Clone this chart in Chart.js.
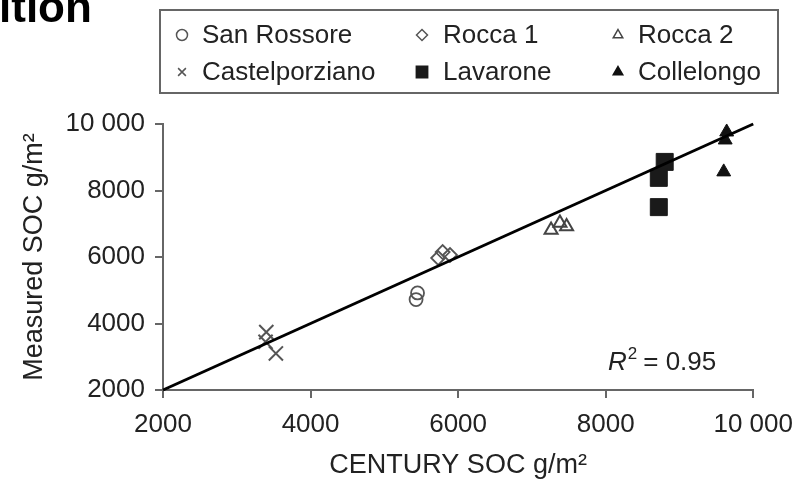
<!DOCTYPE html>
<html>
<head>
<meta charset="utf-8">
<script src="https://cdn.jsdelivr.net/npm/chart.js@4.4.1/dist/chart.umd.min.js"></script>
<style>
  html, body { margin: 0; padding: 0; background: #fff; }
  #wrap { position: relative; width: 804px; height: 488px; }
</style>
</head>
<body>
<div id="wrap"><canvas id="socChart" width="804" height="488"></canvas></div>
<script>
// sites (legend order)
const siteNames = ["San Rossore", "Rocca 1", "Rocca 2", "Castelporziano", "Lavarone", "Collelongo"];

// CENTURY (x) vs measured (y) SOC, g/m2
const sanRossoreX = [5450, 5430];
const sanRossoreY = [4920, 4720];
const rocca1X = [5790, 5890, 5730];
const rocca1Y = [6150, 6060, 5970];
const rocca2X = [7260, 7380, 7470];
const rocca2Y = [6810, 7020, 6920];
const castelX = [3400, 3390, 3530];
const castelY = [3740, 3450, 3100];
const lavaroneX = [8800, 8720, 8720];
const lavaroneY = [8860, 8380, 7500];
const collelongoX = [9640, 9620, 9600];
const collelongoY = [9760, 9520, 8560];

// 1:1 line
const lineX = [2000, 10000];
const lineY = [2000, 10000];

const axisTicks = [2000, 4000, 6000, 8000, 10000];
const r2Text = "0.95";

const grey = "#555";
const txt = "#222";
const fam = "'Liberation Sans', Arial, sans-serif";

function pts(xs, ys) {
  return xs.map((x, i) => ({ x: x, y: ys[i] }));
}

function tickLabel(v) {
  return v >= 10000 ? String(v).replace(/(\d+)(\d{3})$/, "$1 $2") : String(v);
}

const siteStyles = [
  { pointStyle: "circle", radius: 6.5, fill: "rgba(0,0,0,0)", border: grey, width: 1.8 },
  { pointStyle: "rectRot", radius: 7, fill: "rgba(0,0,0,0)", border: grey, width: 1.8 },
  { pointStyle: "triangle", radius: 7.5, fill: "rgba(0,0,0,0)", border: "#444", width: 2 },
  { pointStyle: "crossRot", radius: 10, fill: "rgba(0,0,0,0)", border: grey, width: 2 },
  { pointStyle: "rect", radius: 12, fill: "#1a1a1a", border: "#1a1a1a", width: 1 },
  { pointStyle: "triangle", radius: 8, fill: "#111", border: "#111", width: 1 },
];

const siteData = [
  pts(sanRossoreX, sanRossoreY),
  pts(rocca1X, rocca1Y),
  pts(rocca2X, rocca2Y),
  pts(castelX, castelY),
  pts(lavaroneX, lavaroneY),
  pts(collelongoX, collelongoY),
];

const datasets = siteNames.map((name, i) => ({
  type: "scatter",
  label: name,
  data: siteData[i],
  pointStyle: siteStyles[i].pointStyle,
  pointRadius: siteStyles[i].radius,
  pointBackgroundColor: siteStyles[i].fill,
  pointBorderColor: siteStyles[i].border,
  pointBorderWidth: siteStyles[i].width,
  clip: false,
  order: 2,
}));

datasets.push({
  type: "line",
  label: "1:1",
  data: pts(lineX, lineY),
  borderColor: "#000",
  borderWidth: 3,
  pointRadius: 0,
  clip: false,
  order: 1,
});

// legend box, cropped title and R2 note drawn on the canvas
const extrasPlugin = {
  id: "extras",
  afterDraw(chart) {
    const ctx = chart.ctx;
    ctx.save();

    // cropped title from the slide
    ctx.fillStyle = "#000";
    ctx.font = "bold 44px " + fam;
    ctx.textBaseline = "alphabetic";
    ctx.textAlign = "left";
    ctx.fillText("ition", -1, 22);

    // legend
    ctx.strokeStyle = "#666";
    ctx.lineWidth = 2;
    ctx.strokeRect(160, 10, 618, 83);
    const colMarker = [182, 422, 618];
    const colText = [202, 443, 638];
    const rowY = [35, 72];
    ctx.font = "26px " + fam;
    ctx.textBaseline = "middle";
    siteNames.forEach((name, i) => {
      const col = i % 3, row = Math.floor(i / 3);
      const st = siteStyles[i];
      ctx.fillStyle = st.fill;
      ctx.strokeStyle = st.border;
      ctx.lineWidth = 1.5;
      Chart.helpers.drawPoint(ctx, {
        pointStyle: st.pointStyle,
        radius: st.pointStyle === "rect" ? 8 : 5.5,
        rotation: 0,
        borderWidth: 1.5,
      }, colMarker[col], rowY[row]);
      ctx.fillStyle = txt;
      ctx.fillText(name, colText[col], rowY[row] + 1);
    });

    // R^2 = 0.95
    ctx.fillStyle = txt;
    ctx.textBaseline = "alphabetic";
    ctx.font = "italic 26px " + fam;
    let x = 608;
    const base = 370;
    ctx.fillText("R", x, base);
    x += ctx.measureText("R").width + 1;
    ctx.font = "17px " + fam;
    ctx.fillText("2", x, base - 11);
    x += ctx.measureText("2").width + 6;
    ctx.font = "26px " + fam;
    ctx.fillText("= " + r2Text, x, base);

    ctx.restore();
  },
};

const axisCommon = {
  type: "linear",
  min: axisTicks[0],
  max: axisTicks[axisTicks.length - 1],
  afterBuildTicks(scale) {
    scale.ticks = axisTicks.map(v => ({ value: v }));
  },
  grid: { drawOnChartArea: false, drawTicks: true, tickLength: 8, color: "#666", lineWidth: 2 },
  border: { display: true, color: "#666", width: 2 },
};

new Chart(document.getElementById("socChart"), {
  data: { datasets: datasets },
  options: {
    responsive: false,
    animation: false,
    events: [],
    layout: { padding: { top: 124, right: 41, left: 0, bottom: 0 } },
    plugins: { legend: { display: false }, tooltip: { enabled: false } },
    scales: {
      x: Object.assign({}, axisCommon, {
        position: "bottom",
        afterFit(s) { s.height = 98; },
        ticks: {
          color: txt, padding: 11, maxRotation: 0,
          font: { size: 26, family: fam },
          callback: tickLabel,
        },
        title: {
          display: true, text: "CENTURY SOC g/m²", color: txt,
          font: { size: 27, family: fam },
          padding: { top: 0, bottom: 6 },
        },
      }),
      y: Object.assign({}, axisCommon, {
        position: "left",
        afterFit(s) { s.width = 163; },
        ticks: {
          color: txt, padding: 10,
          font: { size: 26, family: fam },
          callback: tickLabel,
        },
        title: {
          display: true, text: "Measured SOC g/m²", color: txt,
          font: { size: 27, family: fam },
          padding: { top: 18, bottom: 0 },
        },
      }),
    },
  },
  plugins: [extrasPlugin],
});
</script>
</body>
</html>
